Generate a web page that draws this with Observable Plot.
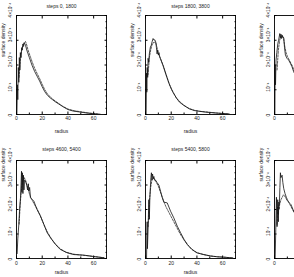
<!DOCTYPE html>
<html><head><meta charset="utf-8">
<script src="https://cdn.jsdelivr.net/npm/d3@7"></script>
<script src="https://cdn.jsdelivr.net/npm/@observablehq/plot@0.6"></script>
<style>
html,body{margin:0;padding:0;background:#fff;overflow:hidden}
#wrap{position:relative;width:294px;height:277px;overflow:hidden;background:#fff}
#wrap svg{position:absolute}
</style></head><body><div id="wrap"></div>
<script>
// titles and tick labels
const titles = ["steps 0, 1800", "steps 1800, 3800", "steps 3800, 4600", "steps 4600, 5400", "steps 5400, 5800", "steps 5800, 6200"];
const xTicks = [0, 20, 40, 60];
const xTickLabels = ["0", "20", "40", "60"];
const xMinorTicks = [10, 30, 50];
const yTicks = [0, 1, 2, 3, 4];           // units of 10^-4
const yTickLabels = ["0", "10⁻⁴", "2×10⁻⁴", "3×10⁻⁴", "4×10⁻⁴"];
const yMinorTicks = [0.25,0.5,0.75,1.25,1.5,1.75,2.25,2.5,2.75,3.25,3.5,3.75];

// panel 1
const p1SolidR = [0.3,0.7,1.0,1.4,1.8,2.2,2.6,3.0,3.5,4.0,4.5,5.0,5.5,6.0,7,8,9,10,12,14,16,18,20,22,24,26,28,30,33,36,40,44,48,52,56,60,64,66];
const p1Solid  = [0.0,1.2,0.6,1.9,1.3,2.3,1.8,2.5,2.3,2.7,2.6,2.85,2.75,2.9,2.8,2.6,2.45,2.3,2.0,1.75,1.55,1.35,1.12,0.92,0.78,0.68,0.6,0.52,0.42,0.32,0.2,0.14,0.11,0.08,0.05,0.03,0.01,0.0];
const p1DashR  = [2,3,4,5,6,7,8,9,10,11,12,14,16,18,20,22,24,26,28,30,33,36,40,45,50,55,60,65];
const p1Dash   = [1.5,2.2,2.6,2.8,2.9,2.95,2.8,2.6,2.45,2.3,2.15,1.88,1.66,1.45,1.22,1.0,0.84,0.72,0.63,0.55,0.44,0.33,0.22,0.15,0.11,0.07,0.04,0.01];
// panel 2
const p2SolidR = [0.5,0.8,1.0,1.3,1.7,2.0,2.5,3.0,3.8,4.5,5.2,5.9,6.6,7.2,8.0,8.5,9.0,9.5,10.0,10.5,11,12,13.6,16,18.7,21,24,26.4,30,34,38,42,46,50,55,60,65];
const p2Solid  = [0,1.67,0.9,1.9,1.5,2.27,2.1,2.45,2.73,2.8,2.95,3.07,3.0,3.02,2.93,2.7,2.45,2.6,2.4,2.5,2.33,2.2,1.98,1.6,1.2,0.93,0.67,0.5,0.36,0.23,0.16,0.13,0.1,0.08,0.06,0.04,0.02];
const p2DashR  = [2,3,4,5,6,7,8,9,10,11,12,14,16,18,20,22,24,27,30,34,38,42,46,50,55,60,65];
const p2Dash   = [1.6,2.3,2.6,2.8,2.9,2.92,2.9,2.7,2.45,2.35,2.22,1.95,1.62,1.3,1.05,0.85,0.67,0.5,0.37,0.24,0.17,0.13,0.11,0.09,0.06,0.04,0.02];
// panel 3
const p3SolidR = [0.3,0.5,0.8,1.2,1.8,2.6,3.2,4.1,4.6,5.0,5.5,6.0,6.5,7.2,7.8,8.5,9.7,11,12.3,13.6,14.9,16.5,18,20,23,26,30,35,40,45,50,55,60,65];
const p3Solid  = [0,2.0,1.2,2.2,2.5,2.87,3.0,3.27,3.1,3.25,3.07,3.2,3.1,3.1,2.7,2.4,2.27,2.2,2.07,1.93,1.73,1.55,1.38,1.15,0.85,0.6,0.4,0.25,0.16,0.12,0.09,0.06,0.04,0.02];
const p3DashR  = [2,3,4,5,6,7,8,9,10,11,12,13,14,15,17,20,23,26,30,35,40,45,50,55,60,65];
const p3Dash   = [1.8,2.6,3.0,3.15,3.2,3.1,2.75,2.5,2.35,2.25,2.15,2.05,1.95,1.8,1.5,1.15,0.85,0.6,0.4,0.26,0.17,0.12,0.09,0.06,0.04,0.02];
// panel 4
const p4SolidR = [0.5,1.0,1.8,2.4,3.1,3.5,3.9,4.2,4.6,5.0,5.4,5.8,6.2,7.0,8.0,8.6,9.2,9.6,10.2,10.9,12,13.5,16,18.7,21.3,23.9,26.5,30.4,34,39.5,44.7,52,60,68];
const p4Solid  = [0.2,0.8,1.39,2.0,2.48,3.0,3.56,2.7,3.5,2.65,3.4,2.8,3.2,3.16,3.0,2.8,3.05,2.75,2.9,2.48,2.42,2.34,2.0,1.73,1.39,1.05,0.84,0.57,0.37,0.23,0.16,0.14,0.08,0.03];
const p4DashR  = [2,3,4,5,6,7,8,9,10,11,12,14,16,18,20,22,24,27,30,34,38,44,50,56,62,68];
const p4Dash   = [1.4,2.3,2.9,3.2,3.3,3.2,3.0,2.85,2.65,2.5,2.4,2.2,2.02,1.8,1.55,1.3,1.08,0.82,0.6,0.4,0.27,0.18,0.14,0.11,0.07,0.03];
// panel 5
const p5SolidR = [0.8,1.3,1.5,2.0,2.6,3.0,3.4,3.8,4.2,4.6,5.0,5.5,6.0,6.5,7.0,7.8,9.0,10.4,11.7,13,14.3,16.9,19.5,22,24.7,27.3,30,32.5,36,40,45.5,50.6,56,62,68];
const p5Solid  = [0,1.5,0.4,1.2,2.4,1.6,2.5,2.9,3.3,3.5,3.2,3.45,3.25,3.35,3.2,3.2,3.1,3.0,2.75,2.5,2.3,2.27,1.93,1.66,1.32,1.05,0.78,0.57,0.37,0.23,0.16,0.1,0.07,0.05,0.02];
const p5DashR  = [2,3,4,5,6,7,8,9,10,11,12,14,16,18,20,22,24,27,30,33,36,40,45,50,56,62,68];
const p5Dash   = [1.3,2.3,2.9,3.2,3.3,3.25,3.15,3.05,2.95,2.8,2.65,2.35,2.1,1.9,1.7,1.5,1.3,1.0,0.75,0.55,0.38,0.24,0.16,0.11,0.07,0.05,0.02];
// panel 6
const p6SolidR = [0.5,1.0,1.5,2.0,2.5,3.0,3.3,3.8,4.2,4.6,5.0,5.9,6.5,7.2,8.2,9.2,10,11,12,12.8,14.4,15.4,17,19,22,25,28,32,36,40,45,50,56,62,68];
const p6Solid  = [0,1.2,2.5,1.3,2.4,1.5,2.3,2.2,2.9,3.5,3.3,3.4,3.1,2.85,2.65,2.5,2.4,2.3,2.25,2.2,2.0,1.9,1.7,1.45,1.15,0.9,0.68,0.45,0.3,0.2,0.14,0.1,0.07,0.04,0.02];
const p6DashR  = [2,2.5,3,3.3,3.6,4,4.5,5,6,7,8,9,10,11,12,13,14,15,17,19,22,25,28,32,36,40,45,50,56,62,68];
const p6Dash   = [1.4,2.1,1.8,2.2,2.0,2.2,2.3,2.4,2.5,2.6,2.55,2.45,2.35,2.3,2.2,2.1,2.0,1.9,1.7,1.45,1.15,0.9,0.68,0.45,0.3,0.2,0.14,0.1,0.07,0.04,0.02];

const panels = [
  [p1SolidR,p1Solid,p1DashR,p1Dash],
  [p2SolidR,p2Solid,p2DashR,p2Dash],
  [p3SolidR,p3Solid,p3DashR,p3Dash],
  [p4SolidR,p4Solid,p4DashR,p4Dash],
  [p5SolidR,p5Solid,p5DashR,p5Dash],
  [p6SolidR,p6Solid,p6DashR,p6Dash]
];

const wrap = document.getElementById("wrap");
const blank = () => "";
panels.forEach(([sr, sy, dr, dy], k) => {
  const col = k % 3, row = Math.floor(k / 3);
  const solid = sr.map((r, i) => ({r, d: sy[i]}));
  const dashed = dr.map((r, i) => ({r, d: dy[i]}));
  const svg = Plot.plot({
    width: 129, height: 145,
    marginLeft: 16, marginRight: 23, marginTop: 15, marginBottom: row ? 32 : 31,
    x: {domain: [0, 70]},
    y: {domain: [0, 4]},
    style: {fontFamily: "Liberation Sans", fontSize: "5px", background: "transparent", overflow: "visible", color: "#000"},
    marks: [
      Plot.axisX({ticks: xTicks, anchor: "bottom", tickSize: -2.5, tickFormat: blank, label: null}),
      Plot.axisX({ticks: xMinorTicks, anchor: "bottom", tickSize: -1.5, tickFormat: blank, label: null}),
      Plot.axisX({ticks: xTicks, anchor: "top", tickSize: -2.5, tickFormat: blank, label: null}),
      Plot.axisY({ticks: yTicks, anchor: "left", tickSize: -2.5, tickFormat: blank, label: null}),
      Plot.axisY({ticks: yTicks, anchor: "right", tickSize: -2.5, tickFormat: blank, label: null}),
      Plot.axisY({ticks: yMinorTicks, anchor: "right", tickSize: -1.5, tickFormat: blank, label: null}),
      Plot.line(solid, {x: "r", y: "d", stroke: "#111", strokeWidth: 0.8, clip: true}),
      Plot.line(dashed, {x: "r", y: "d", stroke: "#111", strokeWidth: 0.7, strokeDasharray: "2,1.3", clip: true}),
      Plot.frame({stroke: "#000", strokeWidth: 0.9}),
      Plot.text(xTicks, {x: d => d, frameAnchor: "bottom", dy: row ? 6 : 5.5, text: (d, i) => xTickLabels[i], fill: "#222"}),
      Plot.text(yTicks, {y: d => d, frameAnchor: "left", dx: -6, dy: 2, rotate: -90, fontSize: 4.8, text: (d, i) => yTickLabels[i], fill: "#111"}),
      Plot.text(["radius"], {frameAnchor: "bottom", dy: row ? 15 : 18, fill: "#222"}),
      Plot.text(["surface density"], {frameAnchor: "left", dx: -13, dy: row ? -28 : -8, rotate: -90, fill: "#222"}),
      Plot.text([titles[k]], {frameAnchor: "top", dy: row ? -13 : -11, fill: "#222"})
    ]
  });
  svg.style.left = (col * 129) + "px";
  svg.style.top = (row * 145) + "px";
  wrap.appendChild(svg);
});
</script></body></html>
